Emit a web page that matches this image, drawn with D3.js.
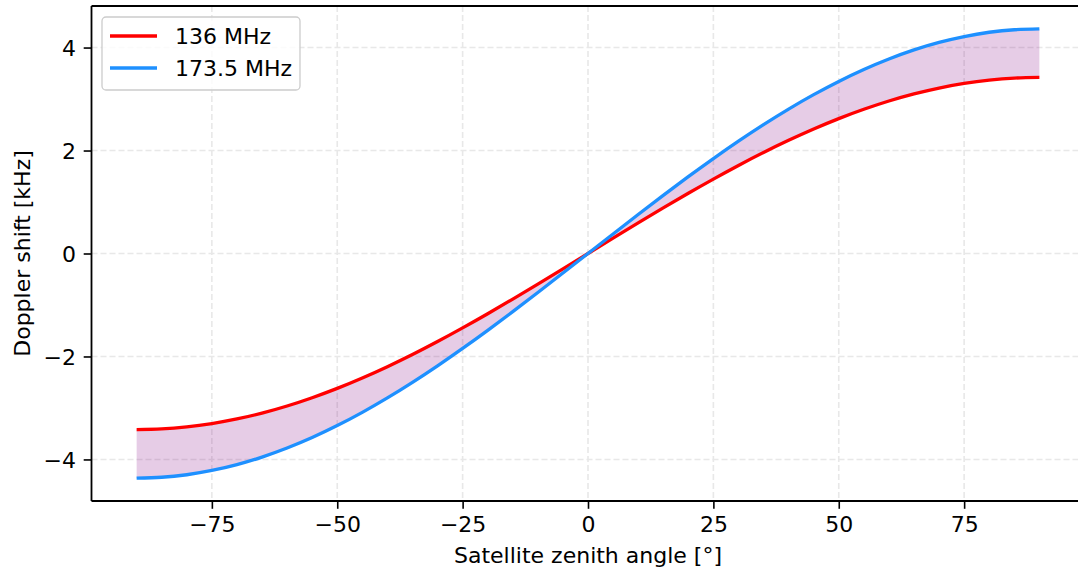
<!DOCTYPE html>
<html>
<head>
<meta charset="utf-8">
<script src="https://cdn.jsdelivr.net/npm/d3@7"></script>
<style>
  body { margin: 0; background: #fff; }
  svg { display: block; font-family: "DejaVu Sans", sans-serif; }
</style>
</head>
<body>
<svg id="chart" width="1078" height="571"></svg>
<script>
// ---- data ----
const angles = [-90,-85,-80,-75,-70,-65,-60,-55,-50,-45,-40,-35,-30,-25,-20,-15,-10,-5,0,
                5,10,15,20,25,30,35,40,45,50,55,60,65,70,75,80,85,90];
const shift136 = [-3.420,-3.407,-3.368,-3.303,-3.214,-3.100,-2.962,-2.801,-2.620,-2.418,-2.198,-1.962,-1.710,-1.445,-1.170,-0.885,-0.594,-0.298,0,
                  0.298,0.594,0.885,1.170,1.445,1.710,1.962,2.198,2.418,2.620,2.801,2.962,3.100,3.214,3.303,3.368,3.407,3.420];
const shift1735 = [-4.363,-4.346,-4.297,-4.214,-4.100,-3.954,-3.778,-3.574,-3.342,-3.085,-2.805,-2.503,-2.182,-1.844,-1.492,-1.129,-0.758,-0.380,0,
                   0.380,0.758,1.129,1.492,1.844,2.182,2.503,2.805,3.085,3.342,3.574,3.778,3.954,4.100,4.214,4.297,4.346,4.363];
const seriesNames = ["136 MHz", "173.5 MHz"];
const xTicks = [-75,-50,-25,0,25,50,75];
const yTicks = [-4,-2,0,2,4];
const xLabel = "Satellite zenith angle [°]";
const yLabel = "Doppler shift [kHz]";

(function () {
// ---- layout ----
const svg = d3.select("#chart");
const pL = 91.5, pR = 1084.5, pT = 6, pB = 501;
const x = d3.scaleLinear().domain([-99, 99]).range([pL, pR]);
const y = d3.scaleLinear().domain([-4.807, 4.807]).range([pB, pT]);
const fs = 22;

const rows = angles.map((a, i) => ({a, r: shift136[i], b: shift1735[i]}));

// grid
const grid = svg.append("g");
xTicks.forEach(t => grid.append("line")
  .attr("x1", x(t)).attr("x2", x(t)).attr("y1", pT).attr("y2", pB)
  .attr("stroke", "#e8e8e8").attr("stroke-width", 1.6).attr("stroke-dasharray", "6,3"));
yTicks.forEach(t => grid.append("line")
  .attr("x1", pL).attr("x2", pR).attr("y1", y(t)).attr("y2", y(t))
  .attr("stroke", "#e8e8e8").attr("stroke-width", 1.6).attr("stroke-dasharray", "6,3"));

// fill between
const area = d3.area().x(d => x(d.a)).y0(d => y(d.r)).y1(d => y(d.b)).curve(d3.curveNatural);
svg.append("path").datum(rows).attr("d", area).attr("fill", "rgba(128,0,128,0.2)");

// lines
const lineR = d3.line().x(d => x(d.a)).y(d => y(d.r)).curve(d3.curveNatural);
const lineB = d3.line().x(d => x(d.a)).y(d => y(d.b)).curve(d3.curveNatural);
svg.append("path").datum(rows).attr("d", lineR).attr("fill", "none")
  .attr("stroke", "#ff0000").attr("stroke-width", 3.3);
svg.append("path").datum(rows).attr("d", lineB).attr("fill", "none")
  .attr("stroke", "#1e90ff").attr("stroke-width", 3.3);

// axes
const xAxis = d3.axisBottom(x).tickValues(xTicks).tickSize(7.8).tickPadding(7.8);
const yAxis = d3.axisLeft(y).tickValues(yTicks).tickSize(7.8).tickPadding(7.8);
const gx = svg.append("g").attr("transform", `translate(0,${pB})`).call(xAxis);
const gy = svg.append("g").attr("transform", `translate(${pL},0)`).call(yAxis);
[gx, gy].forEach(g => {
  g.select(".domain").remove();
  g.selectAll(".tick line").attr("stroke", "#000").attr("stroke-width", 1.6);
  g.selectAll(".tick text").attr("font-size", fs).attr("fill", "#000")
    .attr("font-family", "DejaVu Sans, sans-serif");
});
gx.selectAll(".tick text").attr("dy", "0.71em");
gy.selectAll(".tick text").attr("dy", "0.36em");

// spines
const sp = (x1, y1, x2, y2) => svg.append("line").attr("x1", x1).attr("y1", y1)
  .attr("x2", x2).attr("y2", y2).attr("stroke", "#000").attr("stroke-width", 1.8);
sp(pL, pT, pL, pB); sp(pL, pB, pR, pB); sp(pL, pT, pR, pT); sp(pR, pT, pR, pB);

// axis labels
svg.append("text").attr("x", (pL + pR) / 2).attr("y", 563)
  .attr("text-anchor", "middle").attr("font-size", fs).text(xLabel);
svg.append("text").attr("transform", `translate(30,${(pT + pB) / 2}) rotate(-90)`)
  .attr("text-anchor", "middle").attr("font-size", fs).text(yLabel);

// legend
const lg = svg.append("g");
lg.append("rect").attr("x", 102).attr("y", 17).attr("width", 198).attr("height", 73)
  .attr("rx", 4).attr("fill", "rgba(255,255,255,0.8)").attr("stroke", "#cccccc").attr("stroke-width", 1.3);
const legColors = ["#ff0000", "#1e90ff"];
seriesNames.forEach((n, i) => {
  const cy = 36 + i * 32;
  lg.append("line").attr("x1", 110).attr("x2", 157).attr("y1", cy).attr("y2", cy)
    .attr("stroke", legColors[i]).attr("stroke-width", 3.3);
  lg.append("text").attr("x", 175).attr("y", cy).attr("dy", "0.36em")
    .attr("font-size", fs).text(n);
});
})();
</script>
</body>
</html>
